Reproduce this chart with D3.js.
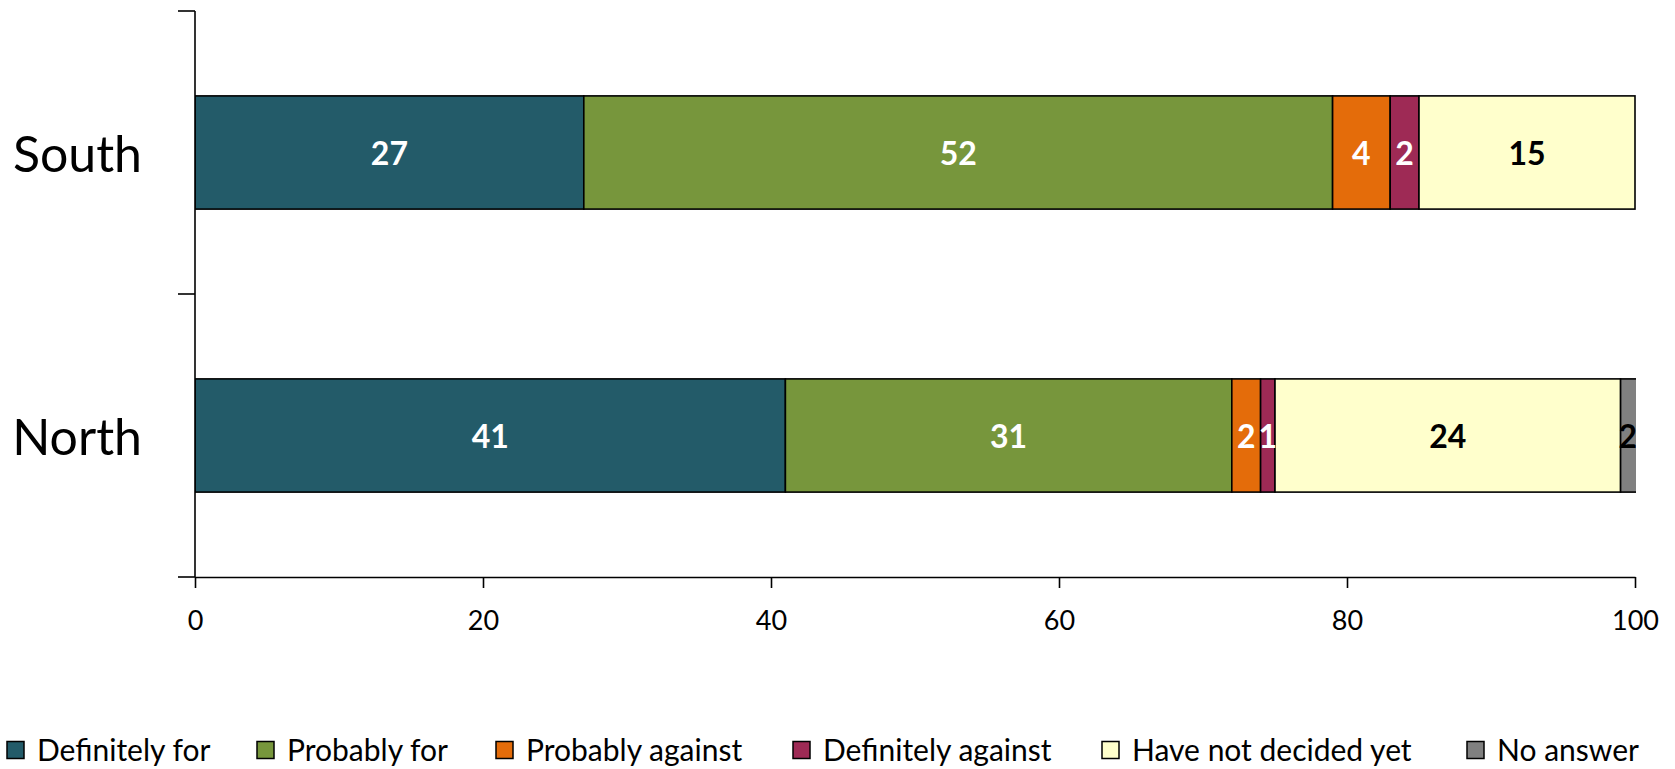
<!DOCTYPE html>
<html>
<head>
<meta charset="utf-8">
<script src="https://cdn.jsdelivr.net/npm/d3@7"></script>
<style>
  html, body { margin: 0; padding: 0; background: #ffffff; }
  svg { display: block; font-family: Lato, "Open Sans", sans-serif; }
</style>
</head>
<body>
<svg id="chart" width="1675" height="769"></svg>
<script>
// ---- data ----
const categories = ["South", "North"];
const seriesNames = ["Definitely for", "Probably for", "Probably against", "Definitely against", "Have not decided yet", "No answer"];
const southValues = [27, 52, 4, 2, 15, 0];
const northValues = [41, 31, 2, 1, 24, 2];
const xTicks = [0, 20, 40, 60, 80, 100];
const seriesColors = ["#235B69", "#77963C", "#E46C0A", "#9E2A55", "#FFFFCC", "#808080"];
const labelColors = ["#ffffff", "#ffffff", "#ffffff", "#ffffff", "#000000", "#000000"];

const rows = [southValues, northValues].map((vals, i) => {
  const r = { category: categories[i] };
  seriesNames.forEach((s, j) => r[s] = vals[j]);
  return r;
});

const svg = d3.select("#chart");
const plot = { left: 195, right: 1635, top: 11, bottom: 577 };

const x = d3.scaleLinear().domain([0, 100]).range([plot.left, plot.right]);
const y = d3.scaleBand().domain(categories).range([plot.top, plot.bottom])
  .paddingInner(0.6).paddingOuter(0.3);

const stacked = d3.stack().keys(seriesNames)(rows);

// clip to plot area
svg.append("defs").append("clipPath").attr("id", "plotclip")
  .append("rect")
  .attr("x", plot.left).attr("y", plot.top)
  .attr("width", plot.right - plot.left + 1).attr("height", plot.bottom - plot.top);

const gBars = svg.append("g").attr("clip-path", "url(#plotclip)");

stacked.forEach((layer, si) => {
  gBars.selectAll(null).data(layer.filter(d => d[1] - d[0] > 0)).enter()
    .append("rect")
    .attr("x", d => x(d[0]))
    .attr("y", d => y(d.data.category))
    .attr("width", d => x(d[1]) - x(d[0]))
    .attr("height", y.bandwidth())
    .attr("fill", seriesColors[si])
    .attr("stroke", "#000")
    .attr("stroke-width", 1.6);
});

// value labels
const clampX = v => x(Math.min(v, 100));
stacked.forEach((layer, si) => {
  gBars.selectAll(null).data(layer.filter(d => d[1] - d[0] > 0)).enter()
    .append("text")
    .attr("x", d => (clampX(d[0]) + clampX(d[1])) / 2)
    .attr("y", d => y(d.data.category) + y.bandwidth() / 2)
    .attr("text-anchor", "middle")
    .attr("dominant-baseline", "central")
    .attr("font-size", 32)
    .attr("font-weight", "bold")
    .attr("fill", labelColors[si])
    .text(d => d[1] - d[0]);
});

// x axis
const xAxis = d3.axisBottom(x).tickValues(xTicks).tickSize(11).tickSizeOuter(0).tickPadding(23);
const gx = svg.append("g").attr("transform", `translate(0,${plot.bottom})`).call(xAxis);
gx.select(".domain").attr("stroke", "#000").attr("stroke-width", 1.6);
gx.selectAll(".tick line").attr("stroke", "#000").attr("stroke-width", 1.6);
gx.selectAll(".tick text").attr("font-size", 27).attr("fill", "#000")
  .attr("font-family", "Lato, sans-serif");

// y axis (category axis with ticks at band boundaries)
const gy = svg.append("g");
gy.append("line")
  .attr("x1", plot.left).attr("x2", plot.left)
  .attr("y1", plot.top).attr("y2", plot.bottom)
  .attr("stroke", "#000").attr("stroke-width", 1.6);
const boundaries = [plot.top, (y(categories[0]) + y.bandwidth() + y(categories[1])) / 2, plot.bottom];
gy.selectAll(null).data(boundaries).enter().append("line")
  .attr("x1", plot.left - 17).attr("x2", plot.left)
  .attr("y1", d => d).attr("y2", d => d)
  .attr("stroke", "#000").attr("stroke-width", 1.6);

gy.selectAll(null).data(categories).enter().append("text")
  .attr("x", 142)
  .attr("y", d => y(d) + y.bandwidth() / 2)
  .attr("text-anchor", "end")
  .attr("dominant-baseline", "central")
  .attr("font-size", 50)
  .attr("fill", "#000")
  .text(d => d);

// legend
const legendX = [7, 257, 496, 793, 1102, 1467];
const gl = svg.append("g");
seriesNames.forEach((s, i) => {
  const g = gl.append("g").attr("transform", `translate(${legendX[i]},749)`);
  g.append("rect").attr("x", 0).attr("y", -7.5).attr("width", 17).attr("height", 17)
    .attr("fill", seriesColors[i]).attr("stroke", "#000").attr("stroke-width", 1.5);
  g.append("text").attr("x", 30).attr("y", 0)
    .attr("dominant-baseline", "central")
    .attr("font-size", 30).attr("fill", "#000").text(s);
});
</script>
</body>
</html>
